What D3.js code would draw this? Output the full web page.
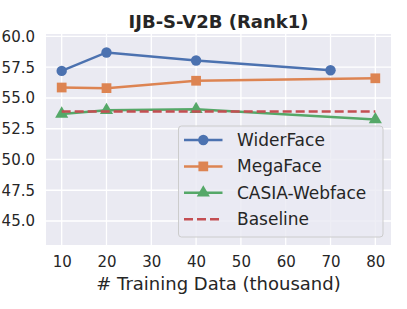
<!DOCTYPE html>
<html>
<head>
<meta charset="utf-8">
<script src="https://cdn.jsdelivr.net/npm/d3@7"></script>
<style>
body { margin: 0; background: #fff; }
text { font-family: "DejaVu Sans", sans-serif; fill: #262626; }
</style>
</head>
<body>
<div class="chart"></div>
<script>
// data
var seriesNames = ["WiderFace", "MegaFace", "CASIA-Webface"];
var widerX = [10, 20, 40, 70];
var widerY = [57.2, 58.7, 58.05, 57.25];
var megaX = [10, 20, 40, 80];
var megaY = [55.85, 55.8, 56.4, 56.6];
var casiaX = [10, 20, 40, 80];
var casiaY = [53.7, 54.0, 54.08, 53.25];
var baseX = [10, 80];
var baseY = [53.9, 53.9];
var xTicks = [10, 20, 30, 40, 50, 60, 70, 80];
var yTicks = [45, 47.5, 50, 52.5, 55, 57.5, 60];

var width = 407, height = 309;
var plotLeft = 46, plotRight = 391, plotTop = 34, plotBottom = 245;

var colors = ["#4C72B0", "#DD8452", "#55A868", "#C44E52"];

var svg = d3.select('.chart').append('svg').attr('width', width).attr('height', height);

var x = d3.scaleLinear().domain([6.5, 83.5]).range([plotLeft, plotRight]);
var y = d3.scaleLinear().domain([43.05, 60.2]).range([plotBottom, plotTop]);

svg.append("rect").attr("x", plotLeft).attr("y", plotTop)
  .attr("width", plotRight - plotLeft).attr("height", plotBottom - plotTop).attr("fill", "#EAEAF2");

// grid
svg.append("g").selectAll("line").data(xTicks).enter().append("line")
  .attr("x1", function(d){ return x(d); }).attr("x2", function(d){ return x(d); })
  .attr("y1", plotTop).attr("y2", plotBottom).attr("stroke", "#fff").attr("stroke-width", 1.3);
svg.append("g").selectAll("line").data(yTicks).enter().append("line")
  .attr("y1", function(d){ return y(d); }).attr("y2", function(d){ return y(d); })
  .attr("x1", plotLeft).attr("x2", plotRight).attr("stroke", "#fff").attr("stroke-width", 1.3);

// axes (tick labels only)
var xAxis = svg.append("g").attr("transform", "translate(0," + plotBottom + ")")
  .call(d3.axisBottom(x).tickValues(xTicks).tickSize(0).tickPadding(11).tickFormat(d3.format("d")));
var yAxis = svg.append("g").attr("transform", "translate(" + plotLeft + ",0)")
  .call(d3.axisLeft(y).tickValues(yTicks).tickSize(0).tickPadding(11).tickFormat(d3.format(".1f")));
[xAxis, yAxis].forEach(function(a){
  a.select(".domain").remove();
  a.selectAll("text").style("font-size", "15px").attr("fill", "#262626")
    .style("font-family", "'DejaVu Sans', sans-serif");
});

var line = d3.line().x(function(d){ return x(d[0]); }).y(function(d){ return y(d[1]); });

function zip(xs, ys) { return xs.map(function(v, i){ return [v, ys[i]]; }); }

var series = [
  {name: "WiderFace", pts: zip(widerX, widerY), marker: "circle", color: colors[0]},
  {name: "MegaFace", pts: zip(megaX, megaY), marker: "square", color: colors[1]},
  {name: "CASIA-Webface", pts: zip(casiaX, casiaY), marker: "triangle", color: colors[2]}
];

var symbolFor = {circle: d3.symbolCircle, square: d3.symbolSquare, triangle: d3.symbolTriangle};
var sizeFor = {circle: 85, square: 95, triangle: 75};

series.forEach(function(s){
  svg.append("path").datum(s.pts).attr("d", line).attr("fill", "none")
    .attr("stroke", s.color).attr("stroke-width", 2.5);
  svg.append("g").selectAll("path").data(s.pts).enter().append("path")
    .attr("transform", function(d){ return "translate(" + x(d[0]) + "," + y(d[1]) + ")"; })
    .attr("d", d3.symbol().type(symbolFor[s.marker]).size(sizeFor[s.marker]))
    .attr("fill", s.color);
});

svg.append("path").datum(zip(baseX, baseY)).attr("d", line).attr("fill", "none")
  .attr("stroke", colors[3]).attr("stroke-width", 2.5).attr("stroke-dasharray", "9,4");

// title and label
svg.append("text").attr("x", (plotLeft + plotRight) / 2).attr("y", 28).attr("text-anchor", "middle")
  .style("font-size", "18px").style("font-weight", "bold").text("IJB-S-V2B (Rank1)");
svg.append("text").attr("x", (plotLeft + plotRight) / 2).attr("y", 290).attr("text-anchor", "middle")
  .style("font-size", "18px").text("# Training Data (thousand)");

// legend
var leg = svg.append("g");
leg.append("rect").attr("x", 178.5).attr("y", 126).attr("width", 204.5).attr("height", 111)
  .attr("rx", 3).attr("fill", "#EAEAF2").attr("fill-opacity", 0.8).attr("stroke", "#cccccc").attr("stroke-width", 1);
var legItems = series.concat([{name: "Baseline", marker: null, color: colors[3]}]);
legItems.forEach(function(s, i){
  var ly = 140 + i * 26.4;
  leg.append("line").attr("x1", 184).attr("x2", 222.5).attr("y1", ly).attr("y2", ly)
    .attr("stroke", s.color).attr("stroke-width", 2.5)
    .attr("stroke-dasharray", s.marker ? null : "9,4");
  if (s.marker) {
    leg.append("path").attr("transform", "translate(" + 203.3 + "," + ly + ")")
      .attr("d", d3.symbol().type(symbolFor[s.marker]).size(sizeFor[s.marker])).attr("fill", s.color);
  }
  leg.append("text").attr("x", 237).attr("y", ly + 6).style("font-size", "17px").text(s.name);
});
</script>
</body>
</html>
